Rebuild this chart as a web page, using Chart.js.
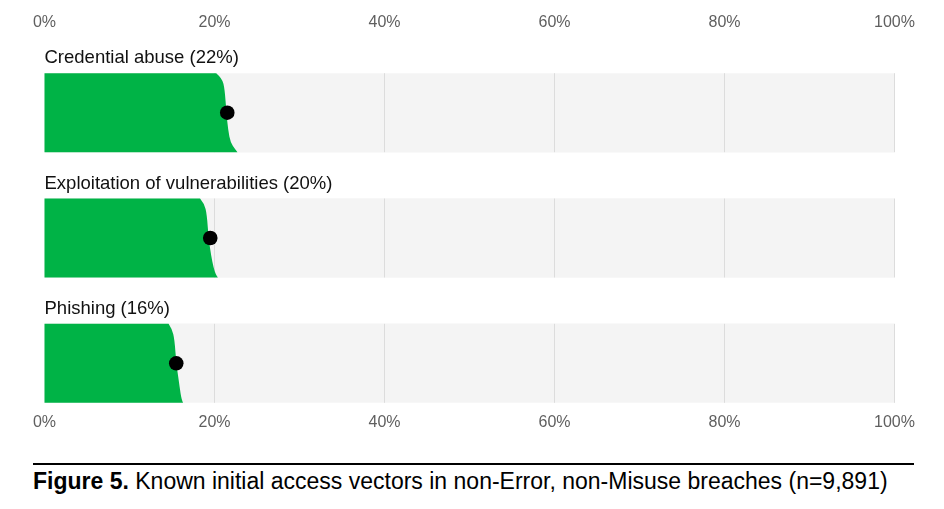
<!DOCTYPE html>
<html>
<head>
<meta charset="utf-8">
<script src="https://cdn.jsdelivr.net/npm/chart.js@4"></script>
<style>
  html, body { margin: 0; padding: 0; background: #fff; }
  body { width: 944px; height: 509px; position: relative; overflow: hidden; font-family: 'Liberation Sans', Arial, sans-serif; }
  #wrap { position: absolute; left: 0; top: 0; width: 944px; height: 445px; }
  #caption { position: absolute; left: 33px; top: 463px; width: 881px; border-top: 2px solid #000; padding-top: 3px; font-size: 23px; color: #000; white-space: nowrap; }
</style>
</head>
<body>
<div id="wrap"><canvas id="chart"></canvas></div>
<div id="caption"><b>Figure 5.</b> Known initial access vectors in non-Error, non-Misuse breaches (n=9,891)</div>
<script>
const categories = ['Credential abuse (22%)', 'Exploitation of vulnerabilities (20%)', 'Phishing (16%)'];
const pointEstimates = [21.5, 19.5, 15.5];
const trackValues = [100, 100, 100];
const tickValues = [0, 20, 40, 60, 80, 100];

// right edge of each green shape, read top to bottom at these levels
const quantileLevels = [0, 0.065, 0.2, 0.5, 0.72, 0.88, 0.96, 1];
const credentialEdge = [20.2, 20.9, 21.2, 21.4, 21.6, 21.9, 22.4, 22.7];
const exploitEdge = [18.3, 18.8, 19.1, 19.3, 19.6, 19.9, 20.15, 20.4];
const phishingEdge = [14.6, 15.0, 15.3, 15.5, 15.8, 16.0, 16.15, 16.3];
const edges = [credentialEdge, exploitEdge, phishingEdge];

const green = '#00b346';
const labelFont = '18.5px "Liberation Sans", Arial, sans-serif';

const shapePlugin = {
  id: 'shapes',
  afterDatasetDraw(chart, args) {
    if (args.index !== 0) return;
    const ctx = chart.ctx;
    const xs = chart.scales.x;
    const x0 = xs.getPixelForValue(0);
    args.meta.data.forEach((bar, i) => {
      const { y, height } = bar.getProps(['y', 'height'], true);
      const top = y - height / 2;
      const bottom = y + height / 2;
      ctx.save();

      // grid lines only inside the track
      ctx.strokeStyle = '#dcdcdc';
      ctx.lineWidth = 1;
      tickValues.slice(1).forEach(v => {
        const px = Math.round(xs.getPixelForValue(v)) - 0.5;
        ctx.beginPath();
        ctx.moveTo(px, top);
        ctx.lineTo(px, bottom);
        ctx.stroke();
      });

      // green shape with a curved right edge
      const pts = edges[i].map((q, k) => ({
        x: xs.getPixelForValue(q),
        y: top + quantileLevels[k] * height
      }));
      ctx.beginPath();
      ctx.moveTo(x0, top);
      ctx.lineTo(pts[0].x, pts[0].y);
      for (let k = 1; k < pts.length - 1; k++) {
        const mx = (pts[k].x + pts[k + 1].x) / 2;
        const my = (pts[k].y + pts[k + 1].y) / 2;
        ctx.quadraticCurveTo(pts[k].x, pts[k].y, mx, my);
      }
      ctx.lineTo(pts[pts.length - 1].x, bottom);
      ctx.lineTo(x0, bottom);
      ctx.closePath();
      ctx.fillStyle = green;
      ctx.fill();

      // row label above the track
      ctx.fillStyle = '#111';
      ctx.font = labelFont;
      ctx.textAlign = 'left';
      ctx.textBaseline = 'alphabetic';
      ctx.fillText(categories[i], x0, top - 10);
      ctx.restore();
    });
  }
};

const tickOpts = {
  padding: 0,
  color: '#5f5f5f',
  font: { family: '"Liberation Sans", Arial, sans-serif', size: 16 },
  callback: v => v + '%'
};

new Chart(document.getElementById('chart'), {
  type: 'bar',
  data: {
    datasets: [
      {
        type: 'bar',
        data: trackValues.map((v, i) => ({ x: v, y: i })),
        backgroundColor: '#f4f4f4',
        barThickness: 79,
        xAxisID: 'x',
        yAxisID: 'y',
        order: 2
      },
      {
        type: 'scatter',
        data: pointEstimates.map((v, i) => ({ x: v, y: i })),
        backgroundColor: '#000',
        borderWidth: 0,
        pointRadius: 7.3,
        pointHoverRadius: 7.3,
        xAxisID: 'x',
        yAxisID: 'y',
        order: 1
      }
    ]
  },
  options: {
    indexAxis: 'y',
    responsive: true,
    maintainAspectRatio: false,
    animation: false,
    layout: { padding: { left: 44.5, right: 49.5, top: 13, bottom: 13 } },
    plugins: { legend: { display: false }, tooltip: { enabled: false } },
    scales: {
      x: {
        type: 'linear',
        position: 'bottom',
        min: 0,
        max: 100,
        afterBuildTicks: axis => { axis.ticks = tickValues.map(v => ({ value: v })); },
        grid: { display: false, drawTicks: true, tickLength: 10 },
        border: { display: false },
        ticks: tickOpts
      },
      x2: {
        type: 'linear',
        position: 'top',
        min: 0,
        max: 100,
        afterBuildTicks: axis => { axis.ticks = tickValues.map(v => ({ value: v })); },
        grid: { display: false, drawTicks: true, tickLength: 41 },
        border: { display: false },
        ticks: tickOpts
      },
      y: {
        type: 'linear',
        reverse: true,
        offset: false,
        min: -0.315,
        max: 2.315,
        display: false
      }
    }
  },
  plugins: [shapePlugin]
});
</script>
</body>
</html>
